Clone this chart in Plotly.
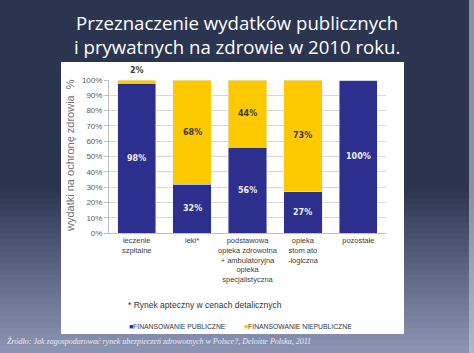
import plotly.graph_objects as go

categories = ["leczenie<br>szpitalne", "leki*", "podstawowa<br>opieka zdrowotna<br>+ ambulatoryjna<br>opieka<br>specjalistyczna",
              "opieka<br>stom ato<br>-logiczna", "pozostałe"]
public = [98, 32, 56, 27, 100]
private = [2, 68, 44, 73, 0]
yticks = [0, 10, 20, 30, 40, 50, 60, 70, 80, 90, 100]
ytick_labels = [f"{v}%" for v in yticks]
series_names = ["FINANSOWANIE PUBLICZNE", "FINANSOWANIE NIEPUBLICZNE"]

W, H = 474, 353
L, R, T, B = 109, 88, 80, 120
PW, PH = W - L - R, H - T - B
C_PUB, C_PRIV = "#2c2f8e", "#fdc900"


def px(x):
    return (x - L) / PW


def py(y):
    return (H - B - y) / PH


fig = go.Figure()
fig.add_trace(go.Bar(x=categories, y=public, marker_color=C_PUB, name=series_names[0]))
fig.add_trace(go.Bar(x=categories, y=private, marker_color=C_PRIV, name=series_names[1]))

annotations = []
lab_font = dict(family="DejaVu Sans", size=8, color="#f0f0f0")
dark_font = dict(family="DejaVu Sans", size=8, color="#3a3a3a")
for c, p, q in zip(categories, public, private):
    annotations.append(dict(x=c, y=p / 2, text=f"<b>{p}%</b>", showarrow=False,
                            font=lab_font, xref="x", yref="y", xanchor="center", yanchor="middle"))
    if q >= 5:
        annotations.append(dict(x=c, y=p + q / 2, text=f"<b>{q}%</b>", showarrow=False,
                                font=dark_font, xref="x", yref="y", xanchor="center", yanchor="middle"))
    elif q > 0:
        annotations.append(dict(x=c, y=100, yshift=10, text=f"<b>{q}%</b>", showarrow=False,
                                font=dark_font, xref="x", yref="y", xanchor="center", yanchor="middle"))

# legend drawn as text with coloured squares
leg_x = [127, 242]
for name, col, lx in zip(series_names, [C_PUB, C_PRIV], leg_x):
    annotations.append(dict(x=px(lx), y=py(326), xref="paper", yref="paper", showarrow=False,
                            xanchor="left", yanchor="middle",
                            text=f"<span style='color:{col}'>■</span>{name}",
                            font=dict(family="Liberation Sans", size=6.8, color="#333333")))

annotations += [
    dict(x=px(237), y=py(35), xref="paper", yref="paper", showarrow=False,
         xanchor="center", yanchor="middle",
         text="Przeznaczenie wydatków publicznych<br>i prywatnych na zdrowie w 2010 roku.",
         font=dict(family="Open Sans", size=18.6, color="white"), align="center"),
    dict(x=px(70), y=py(156), xref="paper", yref="paper", showarrow=False, textangle=-90,
         xanchor="center", yanchor="middle",
         text="wydatki na ochronę zdrowia  %", font=dict(family="Liberation Sans", size=11, color="#707070")),
    dict(x=px(126), y=py(305), xref="paper", yref="paper", showarrow=False,
         xanchor="left", yanchor="middle",
         text="* Rynek apteczny w cenach detalicznych",
         font=dict(family="Liberation Sans", size=8.5, color="#333333")),
    dict(x=px(5), y=py(341), xref="paper", yref="paper", showarrow=False,
         xanchor="left", yanchor="middle",
         text="<i>Źródło: Jak zagospodarować rynek ubezpieczeń zdrowotnych w Polsce?, Deloitte Polska, 2011</i>",
         font=dict(family="Liberation Serif", size=8, color="#e8ecf5")),
]

# background gradient
shapes = []
top_c = (44, 53, 80)
bot_c = (140, 150, 180)
n = 60
for i in range(n):
    y0 = H * i / n
    y1 = H * (i + 1) / n
    t = max(0.0, (y0 + y1) / 2 - 190) / (H - 190)
    col = tuple(int(round(a + (b - a) * t)) for a, b in zip(top_c, bot_c))
    shapes.append(dict(type="rect", xref="paper", yref="paper", layer="below",
                       x0=px(0), x1=px(W), y0=py(y1), y1=py(y0) + 0.01,
                       fillcolor=f"rgb{col}", line=dict(width=0)))
shapes.append(dict(type="rect", xref="paper", yref="paper", layer="below",
                   x0=px(61), x1=px(404), y0=py(334), y1=py(62),
                   fillcolor="white", line=dict(width=0)))
shapes.append(dict(type="rect", xref="paper", yref="paper", layer="below",
                   x0=px(469), x1=px(W), y0=py(H), y1=py(0),
                   fillcolor="rgba(200,205,215,0.6)", line=dict(width=0)))

fig.update_layout(
    width=W, height=H, margin=dict(l=L, r=R, t=T, b=B, autoexpand=False),
    paper_bgcolor="#2c3550", plot_bgcolor="white",
    barmode="stack", bargap=0.31,
    shapes=shapes, annotations=annotations,
    showlegend=False,
    xaxis=dict(tickfont=dict(family="Liberation Sans", size=7.5, color="#404040"),
               showline=True, linecolor="#bfbfbf", ticks="", showgrid=False, automargin=False),
    yaxis=dict(range=[0, 100], tickvals=yticks, ticktext=ytick_labels,
               tickfont=dict(family="Liberation Sans", size=8, color="#595959"),
               showgrid=True, gridcolor="#d9d9d9", gridwidth=1,
               showline=True, linecolor="#bfbfbf", ticks="outside", ticklen=4, tickcolor="#bfbfbf",
               zeroline=False, automargin=False),
)

fig.write_html("out.html")
